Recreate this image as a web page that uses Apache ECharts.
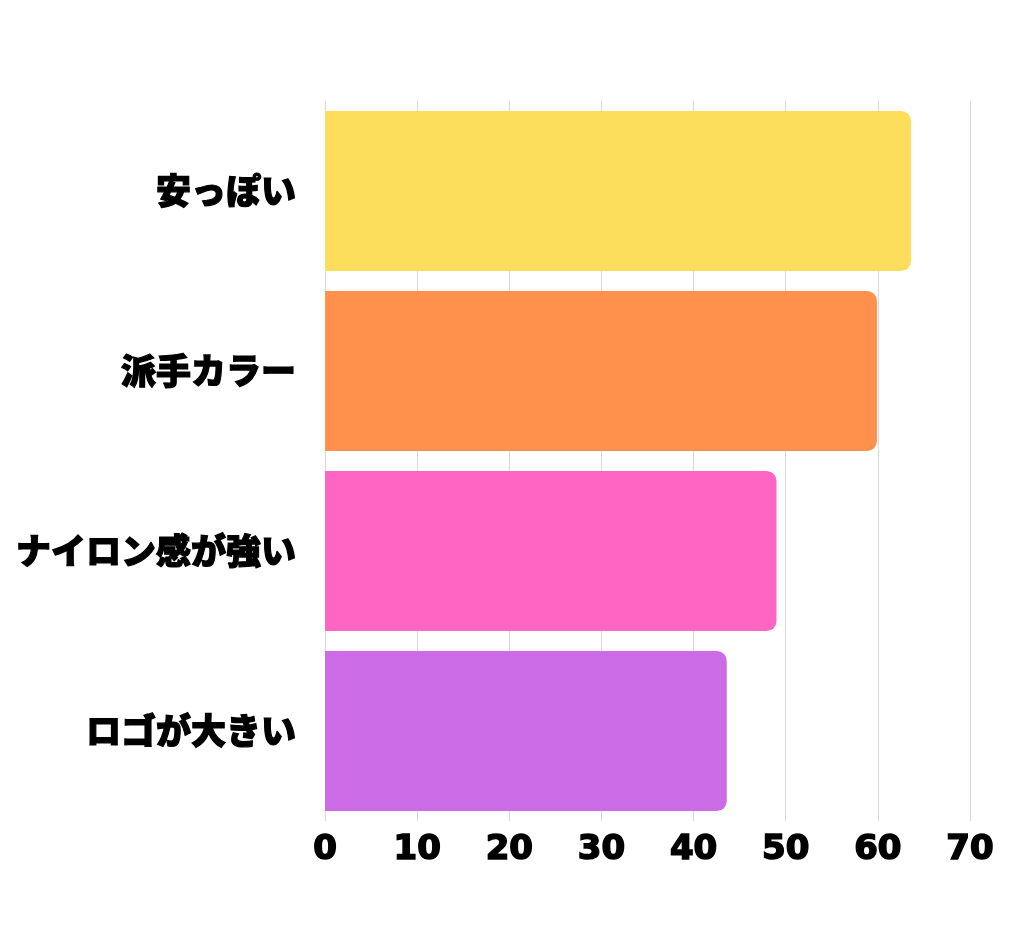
<!DOCTYPE html>
<html>
<head>
<meta charset="utf-8">
<script src="https://cdn.jsdelivr.net/npm/echarts@6/dist/echarts.min.js"></script>
<style>html,body{margin:0;padding:0;background:#fff;}#c{width:1024px;height:946px;}</style>
</head>
<body>
<div id="c"></div>
<script>
const categories = ['安っぽい', '派手カラー', 'ナイロン感が強い', 'ロゴが大きい'];
const values = [63.6, 59.9, 49.0, 43.6];
const barColors = ['#FDDD5C', '#FF914D', '#FF66C4', '#CB6CE6'];
const xTicks = [0, 10, 20, 30, 40, 50, 60, 70];

const chart = echarts.init(document.getElementById('c'));
chart.setOption({
  backgroundColor: '#ffffff',
  animation: false,
  grid: { left: 325, right: 54, top: 101, bottom: 125, containLabel: false },
  xAxis: {
    type: 'value',
    min: xTicks[0],
    max: xTicks[xTicks.length - 1],
    interval: 10,
    axisLine: { show: false },
    axisTick: { show: false },
    splitLine: { show: true, lineStyle: { color: '#d9d9d9', width: 1 } },
    axisLabel: {
      margin: 12,
      color: '#000',
      fontSize: 34,
      fontWeight: 'bold',
      fontFamily: '"DejaVu Sans", sans-serif',
      textBorderColor: '#000',
      textBorderWidth: 1.6
    }
  },
  yAxis: {
    type: 'category',
    inverse: true,
    data: categories,
    axisLine: { show: false },
    axisTick: { show: false },
    axisLabel: {
      margin: 29,
      color: '#000',
      fontSize: 35,
      fontWeight: 900,
      fontFamily: '"Noto Sans CJK JP", sans-serif',
      textBorderColor: '#000',
      textBorderWidth: 1.2
    }
  },
  series: [{
    type: 'bar',
    data: values.map((v, i) => ({ value: v, itemStyle: { color: barColors[i] } })),
    barCategoryGap: '11%',
    itemStyle: { borderRadius: [0, 10, 10, 0] }
  }]
});
</script>
</body>
</html>
